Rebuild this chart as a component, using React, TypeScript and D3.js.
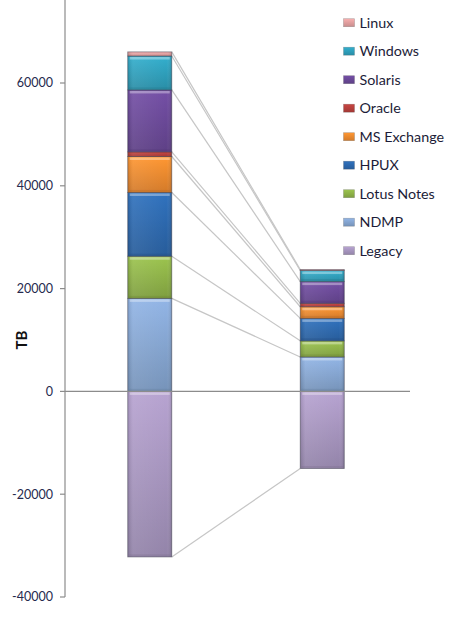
import React from "react";
import * as d3 from "d3";

const categories = ["Before", "After"];
const seriesNames = ["Legacy", "NDMP", "Lotus Notes", "HPUX", "MS Exchange", "Oracle", "Solaris", "Windows", "Linux"];
const seriesColors = ["#a795bf", "#86a6d2", "#8fb347", "#2c68ae", "#ef8a2e", "#b8403c", "#6a4898", "#2fa0bc", "#e3a0a0"];
const valuesBefore = [-32200, 18100, 8200, 12400, 7000, 900, 12050, 6600, 800];
const valuesAfter = [-15000, 6700, 3130, 4370, 2270, 670, 4220, 2150, 200];
const yTicks = [-40000, -20000, 0, 20000, 40000, 60000];
const yAxisMax = 80000;

const W = 450, H = 617;

export default function App() {
  const y = d3.scaleLinear().domain([-40000, 60000]).range([597, 83]);
  const x = d3.scaleBand<string>().domain(categories).range([63.5, 408.5]).padding(0);
  const barW = 44;
  const xLeft = 65, xRight = 410;

  const data = [valuesBefore, valuesAfter];
  const stacks = data.map((vals) => {
    let pos = 0, neg = 0;
    return vals.map((v, i) => {
      let y0, y1;
      if (v >= 0) { y0 = pos; y1 = pos + v; pos = y1; }
      else { y0 = neg; y1 = neg + v; neg = y1; }
      return { i, y0, y1, end: y1 };
    });
  });

  const barX = (c: string) => (x(c)! + x.bandwidth() / 2 - barW / 2);

  const lighten = (c: string, k: number) => d3.color(c)!.brighter(k).formatHex();
  const darken = (c: string, k: number) => d3.color(c)!.darker(k).formatHex();

  const legendNames = seriesNames.slice().reverse();

  return (
    <svg width={W} height={H} style={{ position: "absolute", left: 0, top: 0, background: "#fff" }}
      fontFamily="Lato, 'Open Sans', sans-serif">
      <defs>
        {seriesColors.map((c, i) => (
          <linearGradient key={i} id={`g${i}`} x1="0" y1="0" x2="0" y2="1">
            <stop offset="0" stopColor={lighten(c, 0.25)} />
            <stop offset="1" stopColor={darken(c, 0.35)} />
          </linearGradient>
        ))}
        {seriesColors.map((c, i) => (
          <linearGradient key={"h" + i} id={`h${i}`} x1="0" y1="0" x2="1" y2="0">
            <stop offset="0" stopColor="#000" stopOpacity="0.12" />
            <stop offset="0.12" stopColor="#fff" stopOpacity="0.08" />
            <stop offset="0.88" stopColor="#fff" stopOpacity="0.0" />
            <stop offset="1" stopColor="#000" stopOpacity="0.15" />
          </linearGradient>
        ))}
      </defs>

      {seriesNames.map((s, i) => {
        const a = stacks[0][i].end, b = stacks[1][i].end;
        return (
          <line key={s} x1={barX(categories[0]) + barW} y1={y(a)} x2={barX(categories[1])} y2={y(b)}
            stroke="#c6c6c6" strokeWidth={1.2} />
        );
      })}

      <line x1={xLeft} y1={y(yAxisMax)} x2={xLeft} y2={y(-40000)} stroke="#8c8c8c" strokeWidth={1.2} />
      {yTicks.map((t) => (
        <g key={t}>
          <line x1={xLeft - 5} x2={xLeft} y1={y(t)} y2={y(t)} stroke="#8c8c8c" strokeWidth={1.2} />
          <text x={53} y={y(t)} dy="0.35em" textAnchor="end" fontSize={12.5} fill="#262a4e">{t}</text>
        </g>
      ))}

      {stacks.map((st, ci) => (
        <g key={ci}>
          {st.map((d) => {
            const top = y(Math.max(d.y0, d.y1));
            const bot = y(Math.min(d.y0, d.y1));
            const h = bot - top;
            const bx = barX(categories[ci]);
            const c = seriesColors[d.i];
            return (
              <g key={d.i}>
                <rect x={bx} y={top} width={barW} height={h} fill={`url(#g${d.i})`} />
                <rect x={bx} y={top} width={barW} height={h} fill={`url(#h${d.i})`} />
                {h > 5 && <rect x={bx + 2} y={top + 1} width={barW - 4} height={Math.min(2.5, h / 4)} fill="#fff" opacity={0.35} />}
                {h > 5 && <rect x={bx + 1} y={bot - 2.5} width={barW - 2} height={2} fill={darken(c, 0.8)} opacity={0.35} />}
                <rect x={bx} y={top} width={barW} height={h} fill="none" stroke="#3c3c4a" strokeOpacity={0.55} strokeWidth={0.9} />
              </g>
            );
          })}
        </g>
      ))}

      <line x1={xLeft} x2={xRight} y1={y(0)} y2={y(0)} stroke="#8c8c8c" strokeWidth={1.2} />

      <text transform={`translate(27,${340}) rotate(-90)`} textAnchor="middle" fontSize={15} fontWeight="bold" fill="#111">TB</text>

      {legendNames.map((s, k) => {
        const idx = seriesNames.indexOf(s);
        const cy = 22.7 + k * 28.5;
        return (
          <g key={s}>
            <rect x={343.5} y={cy - 4} width={11} height={8} fill={`url(#g${idx})`} stroke="#555" strokeOpacity={0.4} strokeWidth={0.6} />
            <text x={359.5} y={cy} dy="0.35em" fontSize={14.3} fill="#1c1c38">{s}</text>
          </g>
        );
      })}
    </svg>
  );
}
